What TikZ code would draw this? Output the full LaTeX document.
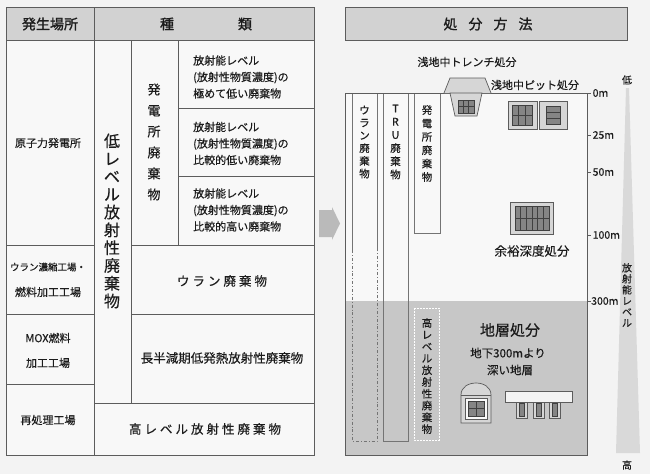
\documentclass[tikz,border=0pt]{standalone}
\usepackage{fontspec}
\setmainfont{Noto Sans CJK JP}[FakeBold=0.35]
\newfontfamily\hdrfont{Noto Sans CJK JP}[FakeBold=1.3]
\definecolor{bgc}{HTML}{F3F3F3}
\definecolor{cellc}{HTML}{F8F8F8}
\definecolor{hdrc}{HTML}{D2D2D2}
\definecolor{lnc}{HTML}{5C5C5C}
\definecolor{deepc}{HTML}{C7C7C7}
\definecolor{iconc}{HTML}{D6D6D6}
\definecolor{darkc}{HTML}{858585}
\definecolor{wedgec}{HTML}{D9D9D9}
\definecolor{txtc}{HTML}{1C1C1C}
\newcommand\myk{\kern3pt}
\begin{document}
\begin{tikzpicture}[x=1pt,y=-1pt,
  tl/.style={draw=lnc,line width=0.9pt},
  col/.style={draw=lnc!85,line width=0.8pt},
  ic/.style={draw=lnc,line width=0.7pt,fill=iconc},
  grid/.style={draw=black!75,line width=0.6pt,fill=darkc},
  t/.style={inner sep=0pt,text=txtc,font=\fontsize{#1}{#1}\selectfont},
  ht/.style={inner sep=0pt,text=txtc,font=\hdrfont\fontsize{#1}{#1}\selectfont},
  vt/.style n args={2}{inner sep=0pt,text=txtc,align=center,font=\fontsize{#1}{#2}\selectfont},
  lt/.style={inner sep=0pt,text=txtc,align=left,anchor=west,font=\fontsize{11}{16.5}\selectfont}]
\useasboundingbox (0,0) rectangle (650,474);
\fill[bgc] (0,0) rectangle (650,474);
% ---------------- left table ----------------
\fill[cellc] (6,40) rectangle (314,455);
\fill[hdrc] (6,7) rectangle (314,40);
\draw[tl] (6,7) rectangle (314,455);
\draw[tl] (6,40) -- (314,40);
\draw[tl] (94,7) -- (94,455);
\draw[tl] (131,40) -- (131,403);
\draw[tl] (178,40) -- (178,245);
\draw[tl] (178,108) -- (314,108);
\draw[tl] (178,176) -- (314,176);
\draw[tl] (6,245) -- (94,245);
\draw[tl] (131,245) -- (314,245);
\draw[tl] (6,314) -- (94,314);
\draw[tl] (131,314) -- (314,314);
\draw[tl] (6,384) -- (94,384);
\draw[tl] (94,403) -- (314,403);
\node[ht=14] (h1) at (50,24) {発生場所};
\node[ht=14] (h2a) at (167,24) {種};
\node[ht=14] (h2b) at (245,24) {類};
\node[t=11] (s1) at (48,143) {原子力発電所};
\node[t=9.5] (s2a) at (48,267) {ウラン濃縮工場・};
\node[t=11] (s2b) at (48,292) {燃料加工工場};
\node[t=11] (s3a) at (48,338) {MOX燃料};
\node[t=11] (s3b) at (48,363) {加工工場};
\node[t=11] (s4) at (48,420) {再処理工場};
\node[vt={16}{17.8}] (low) at (112,221) {低\\レ\\ベ\\ル\\放\\射\\性\\廃\\棄\\物};
\node[vt={13}{21}] (pp) at (154,142) {発\\電\\所\\廃\\棄\\物};
\node[lt] (r1) at (193,77) {放射能レベル\\(放射性物質濃度)の\\極めて低い廃棄物};
\node[lt] (r2) at (193,143.5) {放射能レベル\\(放射性物質濃度)の\\比較的低い廃棄物};
\node[lt] (r3) at (193,210) {放射能レベル\\(放射性物質濃度)の\\比較的高い廃棄物};
\node[t=12.5] (uw) at (222,281) {ウ\myk ラ\myk ン\myk 廃\myk 棄\myk 物};
\node[t=12.5] (lh) at (222,358) {長半減期低発熱放射性廃棄物};
\node[t=12.5] (hl) at (205,429) {高\myk レ\myk ベ\myk ル\myk 放\myk 射\myk 性\myk 廃\myk 棄\myk 物};
% ---------------- arrow ----------------
\fill[black!27] (319,210) -- (332,210) -- (332,207) -- (340,223.5) -- (332,240) -- (332,237) -- (319,237) -- cycle;
% ---------------- right panel ----------------
\fill[hdrc] (345,7) rectangle (627,40);
\draw[tl] (345,7) rectangle (627,40);
\node[ht=14] (hr) at (488,24) {処\kern11pt 分\kern11pt 方\kern11pt 法};
\fill[bgc!60!white] (345,93) rectangle (587,301);
\fill[deepc] (345,301) rectangle (587,455);
% columns
\draw[col] (352,93) -- (352,250);
\draw[col] (377,93) -- (377,250);
\draw[col,dash dot] (352,250) -- (352,441) -- (377,441) -- (377,250);
\draw[col] (383,93) -- (383,441) -- (408,441) -- (408,93);
\draw[col,fill=cellc] (414,93) rectangle (440,233);
\draw[white,line width=0.8pt,dash pattern=on 2pt off 1pt] (414,308) rectangle (439,440);
\node[vt={10.5}{12.7}] (ca) at (364.5,142) {ウ\\ラ\\ン\\廃\\棄\\物};
\node[vt={10.5}{13.2}] (cb) at (395.5,142) {T\\R\\U\\廃\\棄\\物};
\node[vt={10.5}{13.4}] (cc) at (427,143.5) {発\\電\\所\\廃\\棄\\物};
\node[vt={10.5}{11.8}] (cd) at (427,376) {高\\レ\\ベ\\ル\\放\\射\\性\\廃\\棄\\物};
\draw[tl] (345,93) rectangle (587,455);
% trench icon
\draw[ic] (444,93) -- (450,78) -- (485,78) -- (491,93);
\draw[ic] (450,93) -- (482,93) -- (477,116) -- (455,116) -- cycle;
\draw[grid] (458,100) rectangle (474,113);
\draw[black!75,line width=0.6pt] (463.3,100) -- (463.3,113) (468.7,100) -- (468.7,113) (458,106.5) -- (474,106.5);
% pit icons
\draw[ic] (508,101) rectangle (537,129);
\draw[grid] (512,105) rectangle (532,125);
\draw[black!75,line width=0.6pt] (518.7,105) -- (518.7,125) (525.3,105) -- (525.3,125) (512,115) -- (532,115);
\draw[ic] (539,101) rectangle (567,129);
\draw[grid] (546,106) rectangle (560,124);
\draw[black!75,line width=0.6pt] (546,112) -- (560,112) (546,118) -- (560,118);
% intermediate depth icon
\draw[ic] (510,202) rectangle (553,234);
\draw[grid] (515,206) rectangle (549,230);
\foreach \xx in {520.7,526.3,532,537.7,543.3} {\draw[black!75,line width=0.6pt] (\xx,206) -- (\xx,230);}
\draw[black!75,line width=0.6pt] (515,218) -- (549,218);
\node[t=12.5] (mid) at (532,251) {余裕深度処分};
% labels
\node[t=11] (tr) at (467,62) {浅地中トレンチ処分};
\node[t=11] (pt) at (535,85) {浅地中ピット処分};
\node[t=15] (geo) at (510,330) {地層処分};
\node[t=11.5] (geo2) at (508,353) {地下300mより};
\node[t=11.5] (geo3) at (510,370) {深い地層};
% vault icon
\draw[ic] (461,423) -- (461,395) .. controls (461,379) and (491,379) .. (491,395) -- (491,423) -- cycle;
\draw[lnc,line width=0.7pt] (461,395) -- (491,395);
\draw[lnc,line width=0.7pt,fill=white!85!iconc] (465,398) rectangle (487,419);
\draw[grid] (468,401) rectangle (484,416);
\draw[black!75,line width=0.6pt] (476,401) -- (476,416) (468,408.5) -- (484,408.5);
% tube icon
\foreach \xx in {516,533,549} {
  \draw[ic] (\xx,401) rectangle (\xx+11,418);
  \draw[grid] (\xx+3,403) rectangle (\xx+8,416);
}
\draw[ic,fill=white!70!iconc] (505,391) rectangle (572,402);
% scale
\draw[tl] (587,93) -- (591,93);
\draw[tl] (587,135) -- (591,135);
\draw[tl] (587,172) -- (591,172);
\draw[tl] (587,235) -- (591,235);
\draw[tl] (587,301) -- (591,301);
\node[t=10.5,anchor=west] (m0) at (592.5,93) {0m};
\node[t=10.5,anchor=west] (m25) at (592.5,135) {25m};
\node[t=10.5,anchor=west] (m50) at (592.5,172) {50m};
\node[t=10.5,anchor=west] (m100) at (592.5,235) {100m};
\node[t=10.5,anchor=west] (m300) at (591,301) {300m};
% radiation wedge
\fill[wedgec] (626,88) -- (629,88) -- (640,453) -- (616,453) -- cycle;
\node[vt={10}{11}] (rl) at (627,295) {放\\射\\能\\レ\\ベ\\ル};
\node[t=10] (lo) at (627,80) {低};
\node[t=10] (hi) at (627,465) {高};
\end{tikzpicture}
\end{document}
